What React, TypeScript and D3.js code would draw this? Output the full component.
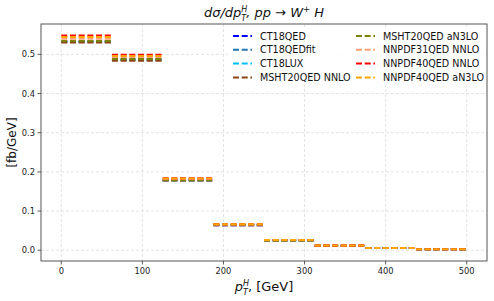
import React from 'react'
import * as d3 from 'd3'

// pT bin edges in GeV
const binEdges = [0, 62.5, 125, 187.5, 250, 312.5, 375, 437.5, 500]

const seriesNames = [
  'CT18QED',
  'CT18QEDfit',
  'CT18LUX',
  'MSHT20QED NNLO',
  'MSHT20QED aN3LO',
  'NNPDF31QED NNLO',
  'NNPDF40QED NNLO',
  'NNPDF40QED aN3LO',
]

const seriesColors = ['#0000ff', '#1f77b4', '#00bfff', '#8b4513', '#808000', '#ffa07a', '#ff0000', '#ffa500']

// d sigma / d pT per bin [fb/GeV]
const ct18qed = [0.532, 0.486, 0.1785, 0.064, 0.025, 0.0115, 0.0055, 0.0024]
const ct18qedfit = [0.533, 0.487, 0.1788, 0.0641, 0.0251, 0.0116, 0.0056, 0.0024]
const ct18lux = [0.533, 0.487, 0.179, 0.0642, 0.0251, 0.0116, 0.0056, 0.0025]
const msht20Nnlo = [0.530, 0.484, 0.178, 0.0639, 0.0249, 0.0115, 0.0055, 0.0024]
const msht20An3lo = [0.534, 0.488, 0.179, 0.0642, 0.025, 0.0116, 0.0055, 0.0024]
const nnpdf31Nnlo = [0.540, 0.493, 0.182, 0.0655, 0.0255, 0.0118, 0.0057, 0.0025]
const nnpdf40Nnlo = [0.548, 0.499, 0.184, 0.0665, 0.026, 0.012, 0.0058, 0.0026]
const nnpdf40An3lo = [0.544, 0.496, 0.183, 0.066, 0.0258, 0.0119, 0.0057, 0.0025]

const seriesValues = [ct18qed, ct18qedfit, ct18lux, msht20Nnlo, msht20An3lo, nnpdf31Nnlo, nnpdf40Nnlo, nnpdf40An3lo]

const xTicks = [0, 100, 200, 300, 400, 500]
const yTicks = [0, 0.1, 0.2, 0.3, 0.4, 0.5]

const App = () => {
  const width = 494
  const height = 301
  const margin = { left: 41, right: 7, top: 24, bottom: 40 }
  const font = 'DejaVu Sans, sans-serif'

  const x = d3.scaleLinear().domain([-25, 525]).range([margin.left, width - margin.right])
  const y = d3.scaleLinear().domain([-0.0275, 0.5775]).range([height - margin.bottom, margin.top])

  const [x0, x1] = x.range()
  const [y0, y1] = y.range()
  const cx = (x0 + x1) / 2

  const legendRows = 4

  return (
    <svg width={width} height={height} style={{ position: 'absolute', left: 0, top: 0 }} fontFamily={font}>
      <rect width={width} height={height} fill="white" />
      {/* grid */}
      {xTicks.map((t) => (
        <line key={'gx' + t} x1={x(t)} x2={x(t)} y1={y1} y2={y0} stroke="#dcdcdc" strokeWidth={0.8} strokeDasharray="3,2" />
      ))}
      {yTicks.map((t) => (
        <line key={'gy' + t} x1={x0} x2={x1} y1={y(t)} y2={y(t)} stroke="#dcdcdc" strokeWidth={0.8} strokeDasharray="3,2" />
      ))}

      {/* step segments, one per bin */}
      {seriesValues.map((vals, i) => (
        <g key={seriesNames[i]}>
          {vals.map((v, j) => (
            <line
              key={j}
              x1={x(binEdges[j])}
              x2={x(binEdges[j + 1])}
              y1={y(v)}
              y2={y(v)}
              stroke={seriesColors[i]}
              strokeWidth={2}
              strokeDasharray="6,2.7"
            />
          ))}
        </g>
      ))}

      {/* legend */}
      <rect x={228} y={27} width={256} height={58} fill="white" opacity={0.85} />
      {seriesNames.map((name, i) => {
        const col = Math.floor(i / legendRows)
        const row = i % legendRows
        const lx = col === 0 ? 233 : 356
        const ly = 36 + row * 13.8
        return (
          <g key={'lg' + name}>
            <line x1={lx} x2={lx + 19} y1={ly} y2={ly} stroke={seriesColors[i]} strokeWidth={2} strokeDasharray="6,2.7" />
            <text x={lx + 27} y={ly + 3.5} fontSize={9.6} fill="#111">
              {name}
            </text>
          </g>
        )
      })}

      {/* frame */}
      <rect x={x0} y={y1} width={x1 - x0} height={y0 - y1} fill="none" stroke="#555" strokeWidth={1} />

      {/* x axis */}
      {xTicks.map((t) => (
        <g key={'xt' + t}>
          <line x1={x(t)} x2={x(t)} y1={y0} y2={y0 + 3.5} stroke="#333" strokeWidth={0.8} />
          <text x={x(t)} y={y0 + 13} fontSize={8.3} textAnchor="middle" fill="#222">
            {t}
          </text>
        </g>
      ))}
      {/* y axis */}
      {yTicks.map((t) => (
        <g key={'yt' + t}>
          <line x1={x0 - 3.5} x2={x0} y1={y(t)} y2={y(t)} stroke="#333" strokeWidth={0.8} />
          <text x={x0 - 6} y={y(t) + 3} fontSize={8.3} textAnchor="end" fill="#222">
            {d3.format('.1f')(t)}
          </text>
        </g>
      ))}

      {/* title */}
      <text x={cx} y={17} fontSize={13} textAnchor="middle" fill="#111" fontStyle="italic">
        dσ/dp
        <tspan fontSize={8} dy={-5.5}>H</tspan>
        <tspan fontSize={8} dx={-6} dy={9.5}>T</tspan>
        <tspan dy={-4}>,  pp → W</tspan>
        <tspan fontSize={8.5} dy={-5}>+</tspan>
        <tspan dy={5}> H</tspan>
      </text>

      {/* x label */}
      <text x={cx} y={291} fontSize={13} textAnchor="middle" fill="#111">
        <tspan fontStyle="italic">p</tspan>
        <tspan fontSize={8} fontStyle="italic" dy={-5.5}>H</tspan>
        <tspan fontSize={8} fontStyle="italic" dx={-6} dy={9.5}>T</tspan>
        <tspan dy={-4}>, [GeV]</tspan>
      </text>

      {/* y label */}
      <text transform={`translate(16,${(y0 + y1) / 2}) rotate(-90)`} fontSize={12} textAnchor="middle" fill="#111">
        [fb/GeV]
      </text>
    </svg>
  )
}

export default App
